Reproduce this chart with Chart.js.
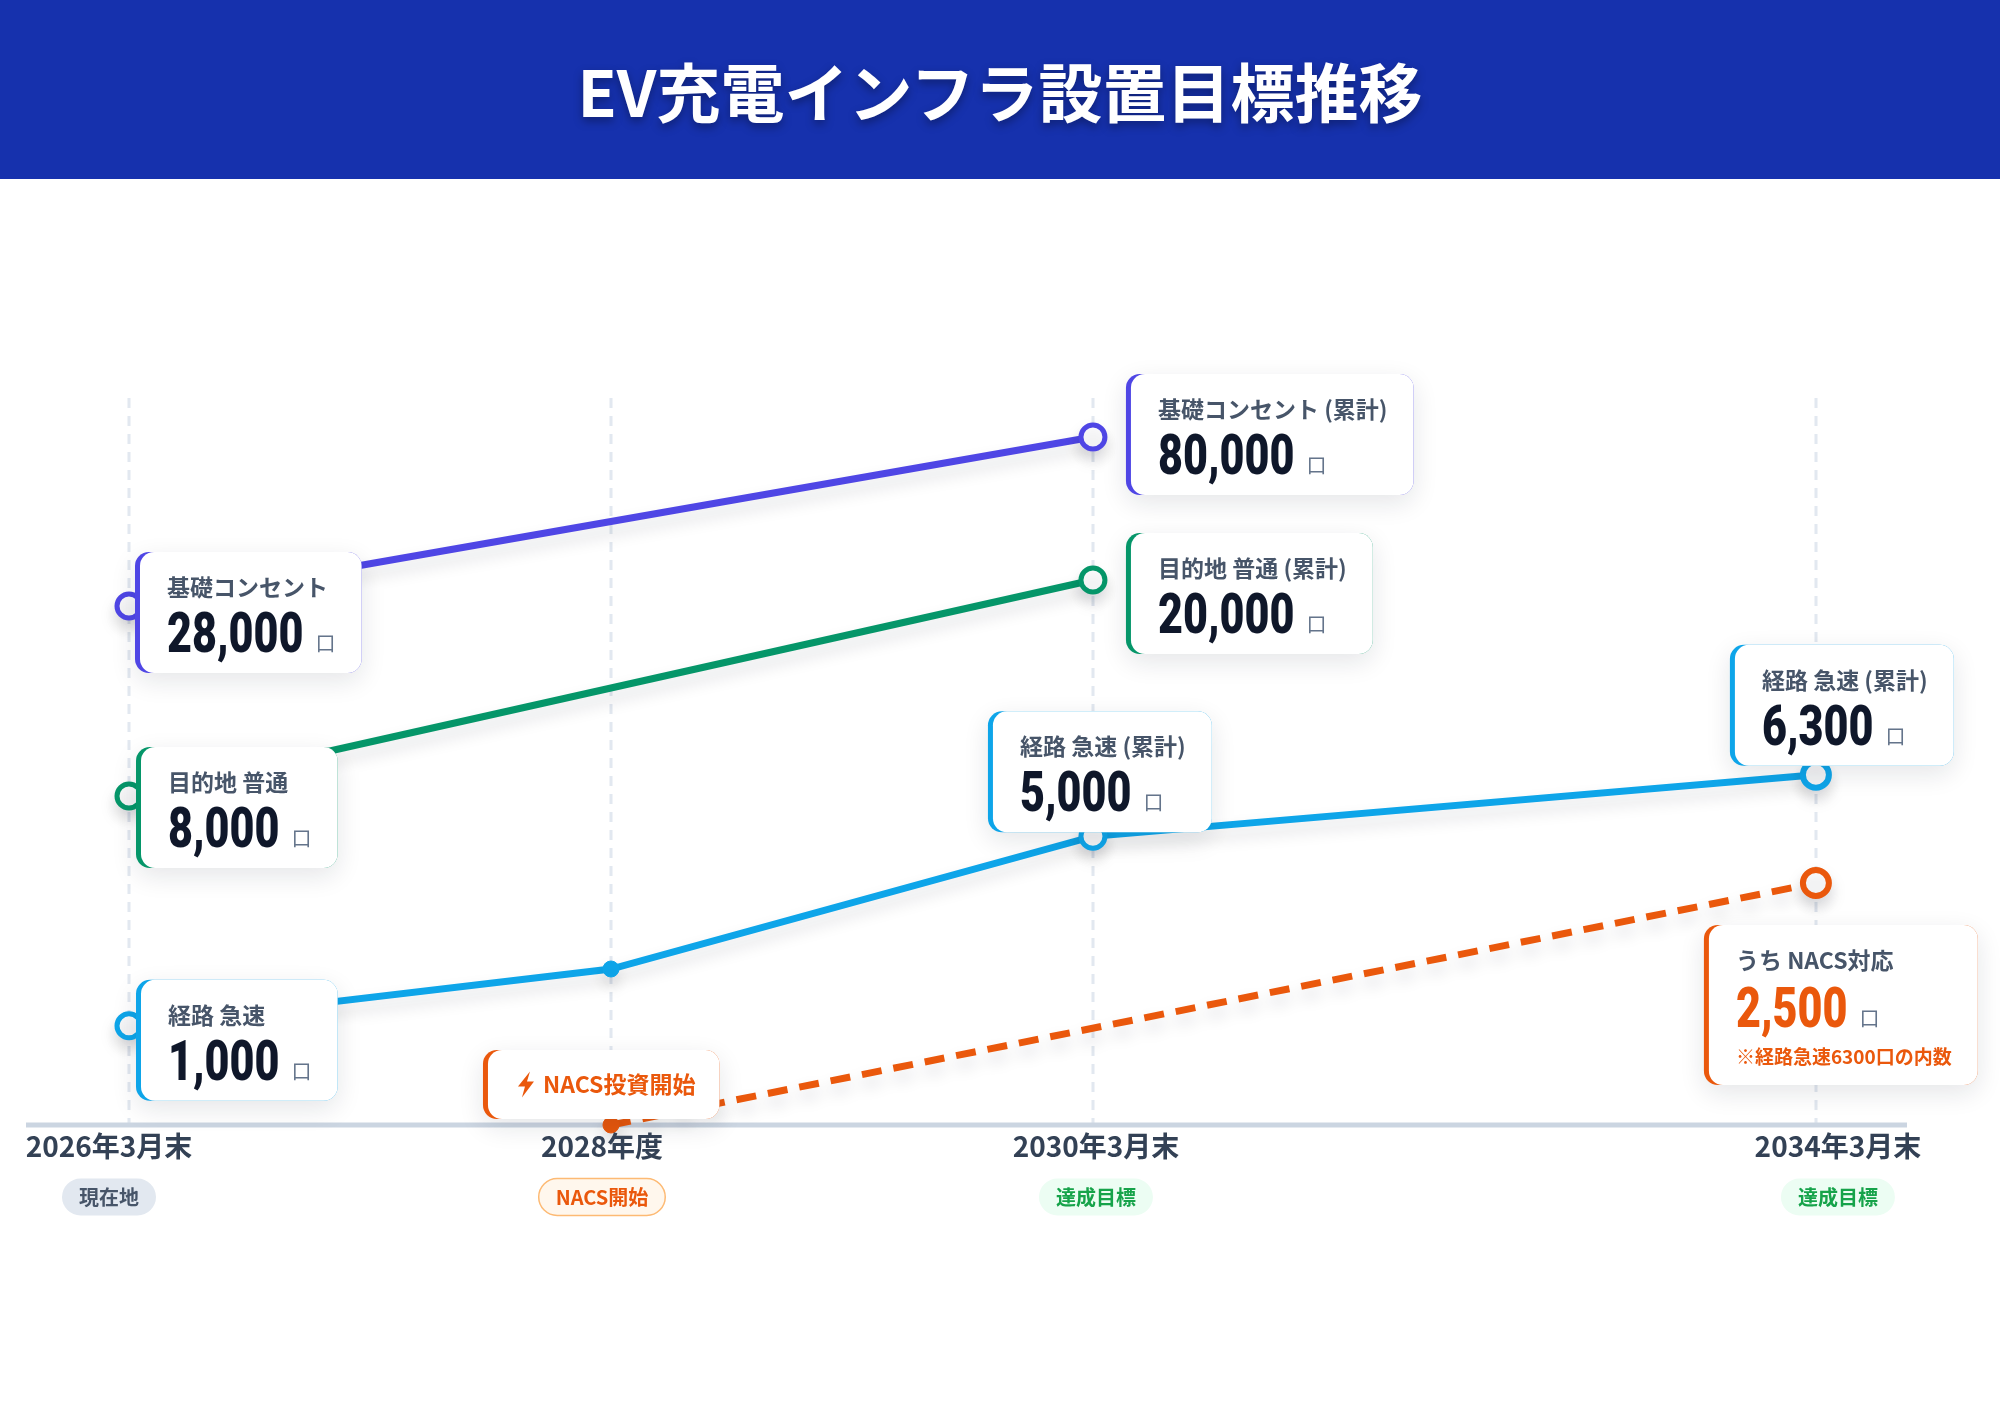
<!DOCTYPE html>
<html lang="ja">
<head>
  <title>EV充電インフラ設置目標推移</title>
  <meta charset="utf-8">
  <script src="https://cdn.jsdelivr.net/npm/chart.js@4.4.1/dist/chart.umd.min.js"></script>
  <style>
  html, body { margin: 0; padding: 0; background: #fff; }
  body { width: 2000px; height: 1414px; position: relative; overflow: hidden;
         font-family: "Noto Sans CJK JP", "Noto Sans", sans-serif; }
  .header { position: absolute; left: 0; top: 0; width: 2000px; height: 179px; z-index: 2;
            background: #1631AD; color: #fff; display: flex; align-items: center; justify-content: center; }
  .header h1 { margin: 0; padding-bottom: 2px; font-size: 64px; font-weight: 700; letter-spacing: 0;
               text-shadow: 0 4px 10px rgba(0, 0, 0, 0.35); }
  .chart-box { position: absolute; left: 0; top: 0; width: 2000px; height: 1414px; }
  </style>
</head>
<body>

<div class="header"><h1>EV充電インフラ設置目標推移</h1></div>
<div class="chart-box"><canvas id="canvas"></canvas></div>

<script>
// timeline
var periodLabels = ['2026年3月末', '2028年度', '2030年3月末', '2034年3月末'];
var periodBadges = ['現在地', 'NACS開始', '達成目標', '達成目標'];
var timelineSlot = [0, 2, 4, 7];

// 設置数 (口)
var basicOutlet = [28000, null, 80000, null];
var destNormal  = [8000, null, 20000, null];
var routeRapid  = [1000, 2200, 5000, 6300];
var routeNacs   = [null, 0, null, 2500];

// callout texts
var basicTitles = ['基礎コンセント', null, '基礎コンセント (累計)', null];
var destTitles  = ['目的地 普通', null, '目的地 普通 (累計)', null];
var rapidTitles = ['経路 急速', null, '経路 急速 (累計)', '経路 急速 (累計)'];
var nacsTitles  = [null, null, null, 'うち NACS対応'];
var nacsNote = '※経路急速6300口の内数';
var nacsStartLabel = 'NACS投資開始';
var unitLabel = '口';

var PURPLE = '#4F46E5', GREEN = '#059669', BLUE = '#0EA5E9', ORANGE = '#EA580C';
var JP = '"Noto Sans CJK JP", "Noto Sans", sans-serif';
var TITLE_FONT = '700 23px ' + JP;
var NUM_FONT = '900 56px Roboto, "Liberation Sans", sans-serif';
var NUM_SQUEEZE = 0.77;
var UNIT_FONT = '400 20px ' + JP;
var NOTE_FONT = '700 19px ' + JP;

function toPoints(values) {
  return values.map(function (v, i) { return { x: timelineSlot[i], y: v }; });
}

function roundedRect(ctx, x, y, w, h, r) {
  ctx.beginPath();
  ctx.moveTo(x + r, y);
  ctx.lineTo(x + w - r, y);
  ctx.arcTo(x + w, y, x + w, y + r, r);
  ctx.lineTo(x + w, y + h - r);
  ctx.arcTo(x + w, y + h, x + w - r, y + h, r);
  ctx.lineTo(x + r, y + h);
  ctx.arcTo(x, y + h, x, y + h - r, r);
  ctx.lineTo(x, y + r);
  ctx.arcTo(x, y, x + r, y, r);
  ctx.closePath();
}

function cardBox(ctx, left, top, w, h, color) {
  ctx.save();
  ctx.shadowColor = 'rgba(15, 23, 42, 0.11)';
  ctx.shadowBlur = 26;
  ctx.shadowOffsetY = 8;
  ctx.fillStyle = color;
  roundedRect(ctx, left, top, w, h, 14);
  ctx.fill();
  ctx.restore();
  ctx.fillStyle = '#fff';
  roundedRect(ctx, left + 5, top, w - 5, h, 14);
  ctx.fill();
}

function drawCard(ctx, left, top, color, title, value, valueColor, note) {
  var padL = 32, padR = 26;
  ctx.save();
  ctx.font = TITLE_FONT;
  var tw = ctx.measureText(title).width;
  ctx.font = NUM_FONT;
  var nw = ctx.measureText(value).width * NUM_SQUEEZE;
  ctx.font = UNIT_FONT;
  var uw = ctx.measureText(unitLabel).width;
  var noteW = 0;
  if (note) { ctx.font = NOTE_FONT; noteW = ctx.measureText(note).width; }
  var w = padL + Math.max(tw, nw + 12 + uw, noteW) + padR;
  var h = note ? 160 : 121;
  cardBox(ctx, left, top, w, h, color);

  ctx.textAlign = 'left';
  ctx.textBaseline = 'middle';
  ctx.font = TITLE_FONT;
  ctx.fillStyle = '#475569';
  ctx.fillText(title, left + padL, top + 35);

  var base = top + (note ? 102 : 100);
  ctx.save();
  ctx.translate(left + padL, base);
  ctx.scale(NUM_SQUEEZE, 1);
  ctx.font = NUM_FONT;
  ctx.textBaseline = 'alphabetic';
  ctx.fillStyle = valueColor;
  ctx.fillText(value, 0, 0);
  ctx.restore();

  ctx.font = UNIT_FONT;
  ctx.textBaseline = 'alphabetic';
  ctx.fillStyle = '#64748B';
  ctx.fillText(unitLabel, left + padL + nw + 12, base - 1);

  if (note) {
    ctx.font = NOTE_FONT;
    ctx.textBaseline = 'middle';
    ctx.fillStyle = ORANGE;
    ctx.fillText(note, left + padL, top + 132);
  }
  ctx.restore();
}

function drawTag(ctx, left, top, text) {
  ctx.save();
  ctx.font = TITLE_FONT;
  var tw = ctx.measureText(text).width;
  var w = 34 + 18 + 8 + tw + 24, h = 69;
  cardBox(ctx, left, top, w, h, ORANGE);
  // bolt
  var cx = left + 43, cy = top + h / 2;
  ctx.fillStyle = ORANGE;
  ctx.beginPath();
  ctx.moveTo(cx + 4, cy - 13);
  ctx.lineTo(cx - 8, cy + 2);
  ctx.lineTo(cx - 1, cy + 2);
  ctx.lineTo(cx - 4, cy + 13);
  ctx.lineTo(cx + 8, cy - 3);
  ctx.lineTo(cx + 1, cy - 3);
  ctx.closePath();
  ctx.fill();
  ctx.textAlign = 'left';
  ctx.textBaseline = 'middle';
  ctx.fillText(text, left + 60, cy);
  ctx.restore();
}

var badgeStyles = {
  '現在地':   { bg: '#E2E8F0', border: null, text: '#475569' },
  'NACS開始': { bg: '#FFF7ED', border: '#FDBA74', text: ORANGE },
  '達成目標': { bg: '#ECFDF3', border: null, text: '#16A34A' }
};

var roadmapPlugin = {
  id: 'roadmap',
  beforeDatasetsDraw: function (chart) {
    var ctx = chart.ctx, area = chart.chartArea, xs = chart.scales.x;
    ctx.save();
    ctx.strokeStyle = '#E2E8F0';
    ctx.lineWidth = 3;
    ctx.setLineDash([10, 8]);
    timelineSlot.forEach(function (v) {
      var x = Math.round(xs.getPixelForValue(v));
      ctx.beginPath();
      ctx.moveTo(x, area.top);
      ctx.lineTo(x, area.bottom);
      ctx.stroke();
    });
    ctx.setLineDash([]);
    ctx.strokeStyle = '#CBD5E1';
    ctx.lineWidth = 5;
    ctx.beginPath();
    ctx.moveTo(area.left, area.bottom);
    ctx.lineTo(area.right, area.bottom);
    ctx.stroke();
    ctx.restore();
  },
  beforeDatasetDraw: function (chart) {
    var ctx = chart.ctx;
    ctx.save();
    ctx.shadowColor = 'rgba(15, 23, 42, 0.15)';
    ctx.shadowBlur = 16;
    ctx.shadowOffsetY = 9;
  },
  afterDatasetDraw: function (chart) {
    chart.ctx.restore();
  },
  afterDatasetsDraw: function (chart, args, opts) {
    var ctx = chart.ctx, xs = chart.scales.x, area = chart.chartArea;
    opts.callouts.forEach(function (c) {
      var ds = chart.data.datasets[c.ds];
      var pt = chart.getDatasetMeta(c.ds).data[c.i];
      var value = ds.data[c.i].y.toLocaleString('en-US');
      drawCard(ctx, pt.x + c.dx, pt.y + c.dy, ds.borderColor, ds.titles[c.i], value,
               c.note ? ORANGE : '#0F172A', c.note ? nacsNote : null);
    });
    var tp = chart.getDatasetMeta(opts.tag.ds).data[opts.tag.i];
    drawTag(ctx, tp.x + opts.tag.dx, tp.y + opts.tag.dy, nacsStartLabel);

    // period labels and badges
    ctx.save();
    ctx.textAlign = 'center';
    ctx.textBaseline = 'middle';
    periodLabels.forEach(function (label, i) {
      var x = xs.getPixelForValue(timelineSlot[i]) + opts.labelNudge[i];
      ctx.font = '700 28px ' + JP;
      ctx.fillStyle = '#334155';
      ctx.fillText(label, x, area.bottom + 21);

      var b = periodBadges[i], st = badgeStyles[b];
      ctx.font = '700 20px ' + JP;
      var bw = ctx.measureText(b).width + 34, bh = 37, by = area.bottom + 72 - bh / 2;
      roundedRect(ctx, x - bw / 2, by, bw, bh, bh / 2);
      ctx.fillStyle = st.bg;
      ctx.fill();
      if (st.border) {
        ctx.strokeStyle = st.border;
        ctx.lineWidth = 1.5;
        ctx.stroke();
      }
      ctx.fillStyle = st.text;
      ctx.fillText(b, x, area.bottom + 72);
    });
    ctx.restore();
  }
};

var lineData = {
  datasets: [{
    label: '基礎コンセント',
    data: toPoints(basicOutlet),
    titles: basicTitles,
    yAxisID: 'yBasic',
    borderColor: PURPLE,
    pointBorderColor: PURPLE,
    pointBackgroundColor: '#fff',
    pointRadius: 12,
    pointBorderWidth: 5
  }, {
    label: '目的地 普通',
    data: toPoints(destNormal),
    titles: destTitles,
    yAxisID: 'yDest',
    borderColor: GREEN,
    pointBorderColor: GREEN,
    pointBackgroundColor: '#fff',
    pointRadius: 12,
    pointBorderWidth: 5
  }, {
    label: '経路 急速',
    data: toPoints(routeRapid),
    titles: rapidTitles,
    yAxisID: 'yRapid',
    borderColor: BLUE,
    pointBorderColor: BLUE,
    pointBackgroundColor: ['#fff', BLUE, '#fff', '#fff'],
    pointRadius: [12, 8, 12, 13],
    pointBorderWidth: [5, 1, 5, 6]
  }, {
    label: 'うち NACS対応',
    data: toPoints(routeNacs),
    titles: nacsTitles,
    yAxisID: 'yNacs',
    borderColor: ORANGE,
    borderDash: [20, 12],
    pointBorderColor: ORANGE,
    pointBackgroundColor: [ORANGE, ORANGE, ORANGE, '#fff'],
    pointRadius: [0, 8, 0, 13],
    pointBorderWidth: [1, 1, 1, 6]
  }]
};
lineData.datasets.forEach(function (d) {
  d.borderWidth = 7;
  d.spanGaps = true;
  d.clip = false;
  d.tension = 0;
  d.fill = false;
});

window.onload = function () {
  var ctx = document.getElementById('canvas').getContext('2d');
  window.myLine = new Chart(ctx, {
    type: 'line',
    data: lineData,
    plugins: [roadmapPlugin],
    options: {
      responsive: true,
      maintainAspectRatio: false,
      animation: false,
      layout: { padding: { top: 398, bottom: 289, left: 26, right: 93 } },
      scales: {
        x: { type: 'linear', display: false, min: -0.4274, max: 7.378 },
        yBasic: { type: 'linear', display: false, min: -131700, max: 92000 },
        yDest: { type: 'linear', display: false, min: -10278, max: 30114 },
        yRapid: { type: 'linear', display: false, min: -1093, max: 14254 },
        yNacs: { type: 'linear', display: false, min: 0, max: 7510 }
      },
      plugins: {
        legend: { display: false },
        tooltip: { enabled: false },
        roadmap: {
          callouts: [
            { ds: 0, i: 0, dx: 6, dy: -54 },
            { ds: 0, i: 2, dx: 33, dy: -63 },
            { ds: 1, i: 0, dx: 7, dy: -49 },
            { ds: 1, i: 2, dx: 33, dy: -47 },
            { ds: 2, i: 0, dx: 7, dy: -46 },
            { ds: 2, i: 2, dx: -105, dy: -125 },
            { ds: 2, i: 3, dx: -86, dy: -130 },
            { ds: 3, i: 3, dx: -112, dy: 42, note: true }
          ],
          tag: { ds: 3, i: 1, dx: -128, dy: -75 },
          labelNudge: [-20, -9, 3, 22]
        }
      }
    }
  });
};
</script>

</body>
</html>
